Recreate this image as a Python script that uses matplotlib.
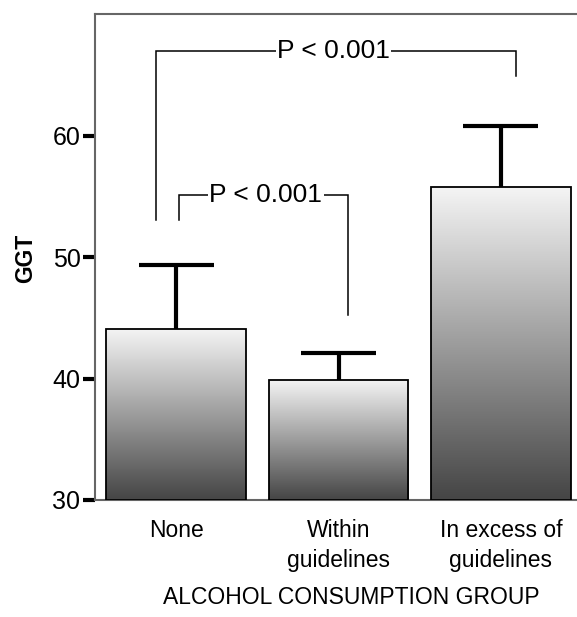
import numpy as np
import matplotlib
matplotlib.use("Agg")
import matplotlib.pyplot as plt
from matplotlib.colors import LinearSegmentedColormap

plt.rcParams['font.family'] = ['Liberation Sans', 'DejaVu Sans']

# Mean GGT and upper error-bar tops by alcohol consumption group
groups = ["None", "Within\nguidelines", "In excess of\nguidelines"]
means = [44.1, 39.9, 55.8]
upper = [49.4, 42.1, 60.8]
y_ticks = [30, 40, 50, 60]
p_label = "P < 0.001"

W, H = 577, 617
fig = plt.figure(figsize=(W / 100, H / 100), dpi=100)
ax = fig.add_axes([95 / W, 117 / H, (582 - 95) / W, 486 / H])

x = np.arange(len(groups))
bar_w = 0.86
cap_half = 0.231
ax.set_xlim(-0.5, 2.5)
ax.set_ylim(30, 70.05)

grad_cmap = LinearSegmentedColormap.from_list("g", ["#454545", "#f5f5f5"])
grad = np.linspace(0, 1, 256).reshape(-1, 1)

bars = ax.bar(x, np.array(means) - 30, bottom=30, width=bar_w,
              facecolor="none", edgecolor="black", linewidth=1.3, zorder=3)
for b in bars:
    x0, y0 = b.get_x(), b.get_y()
    im = ax.imshow(grad, cmap=grad_cmap, origin="lower", aspect="auto",
                   extent=[x0, x0 + b.get_width(), y0, y0 + b.get_height()],
                   zorder=2)
    im.set_clip_path(b)

# Upper-only error bars with a cap
ax.vlines(x, means, upper, color="black", linewidth=3, zorder=4)
ax.hlines(upper, x - cap_half, x + cap_half, color="black", linewidth=3,
          zorder=4)

# Significance brackets
def bracket(xl, xr, yl, yr, ytop, xt):
    ax.plot([xl, xl, xr, xr], [yl, ytop, ytop, yr], color="black",
            linewidth=1.1, zorder=5, solid_joinstyle="miter")
    ax.text(xt, ytop, p_label, ha="center", va="center", fontsize=19,
            zorder=6, bbox=dict(facecolor="white", edgecolor="none", pad=1.0))

bracket(-0.126, 2.094, 53.1, 64.95, 67.0, 0.969)
bracket(0.019, 1.059, 53.1, 45.25, 55.14, 0.553)

ax.set_yticks(y_ticks)
ax.set_xticks(x)
ax.set_xticklabels(groups, fontsize=16.5, linespacing=1.4)
ax.tick_params(axis="x", length=0, pad=13.5)
ax.tick_params(axis="y", length=8.5, width=3, color="black",
               labelsize=18, pad=2)

for side in ["left", "top", "bottom"]:
    ax.spines[side].set_color("#666666")
    ax.spines[side].set_linewidth(1.5)
ax.spines["right"].set_visible(False)

fig.text(26 / W, 1 - 258 / H, "GGT", rotation=90, ha="center", va="center",
         fontsize=16.5, fontweight="bold")
fig.text(351 / W, 1 - 597 / H, "ALCOHOL CONSUMPTION GROUP", ha="center",
         va="center", fontsize=16.5)

fig.savefig("out.png", dpi=100)
